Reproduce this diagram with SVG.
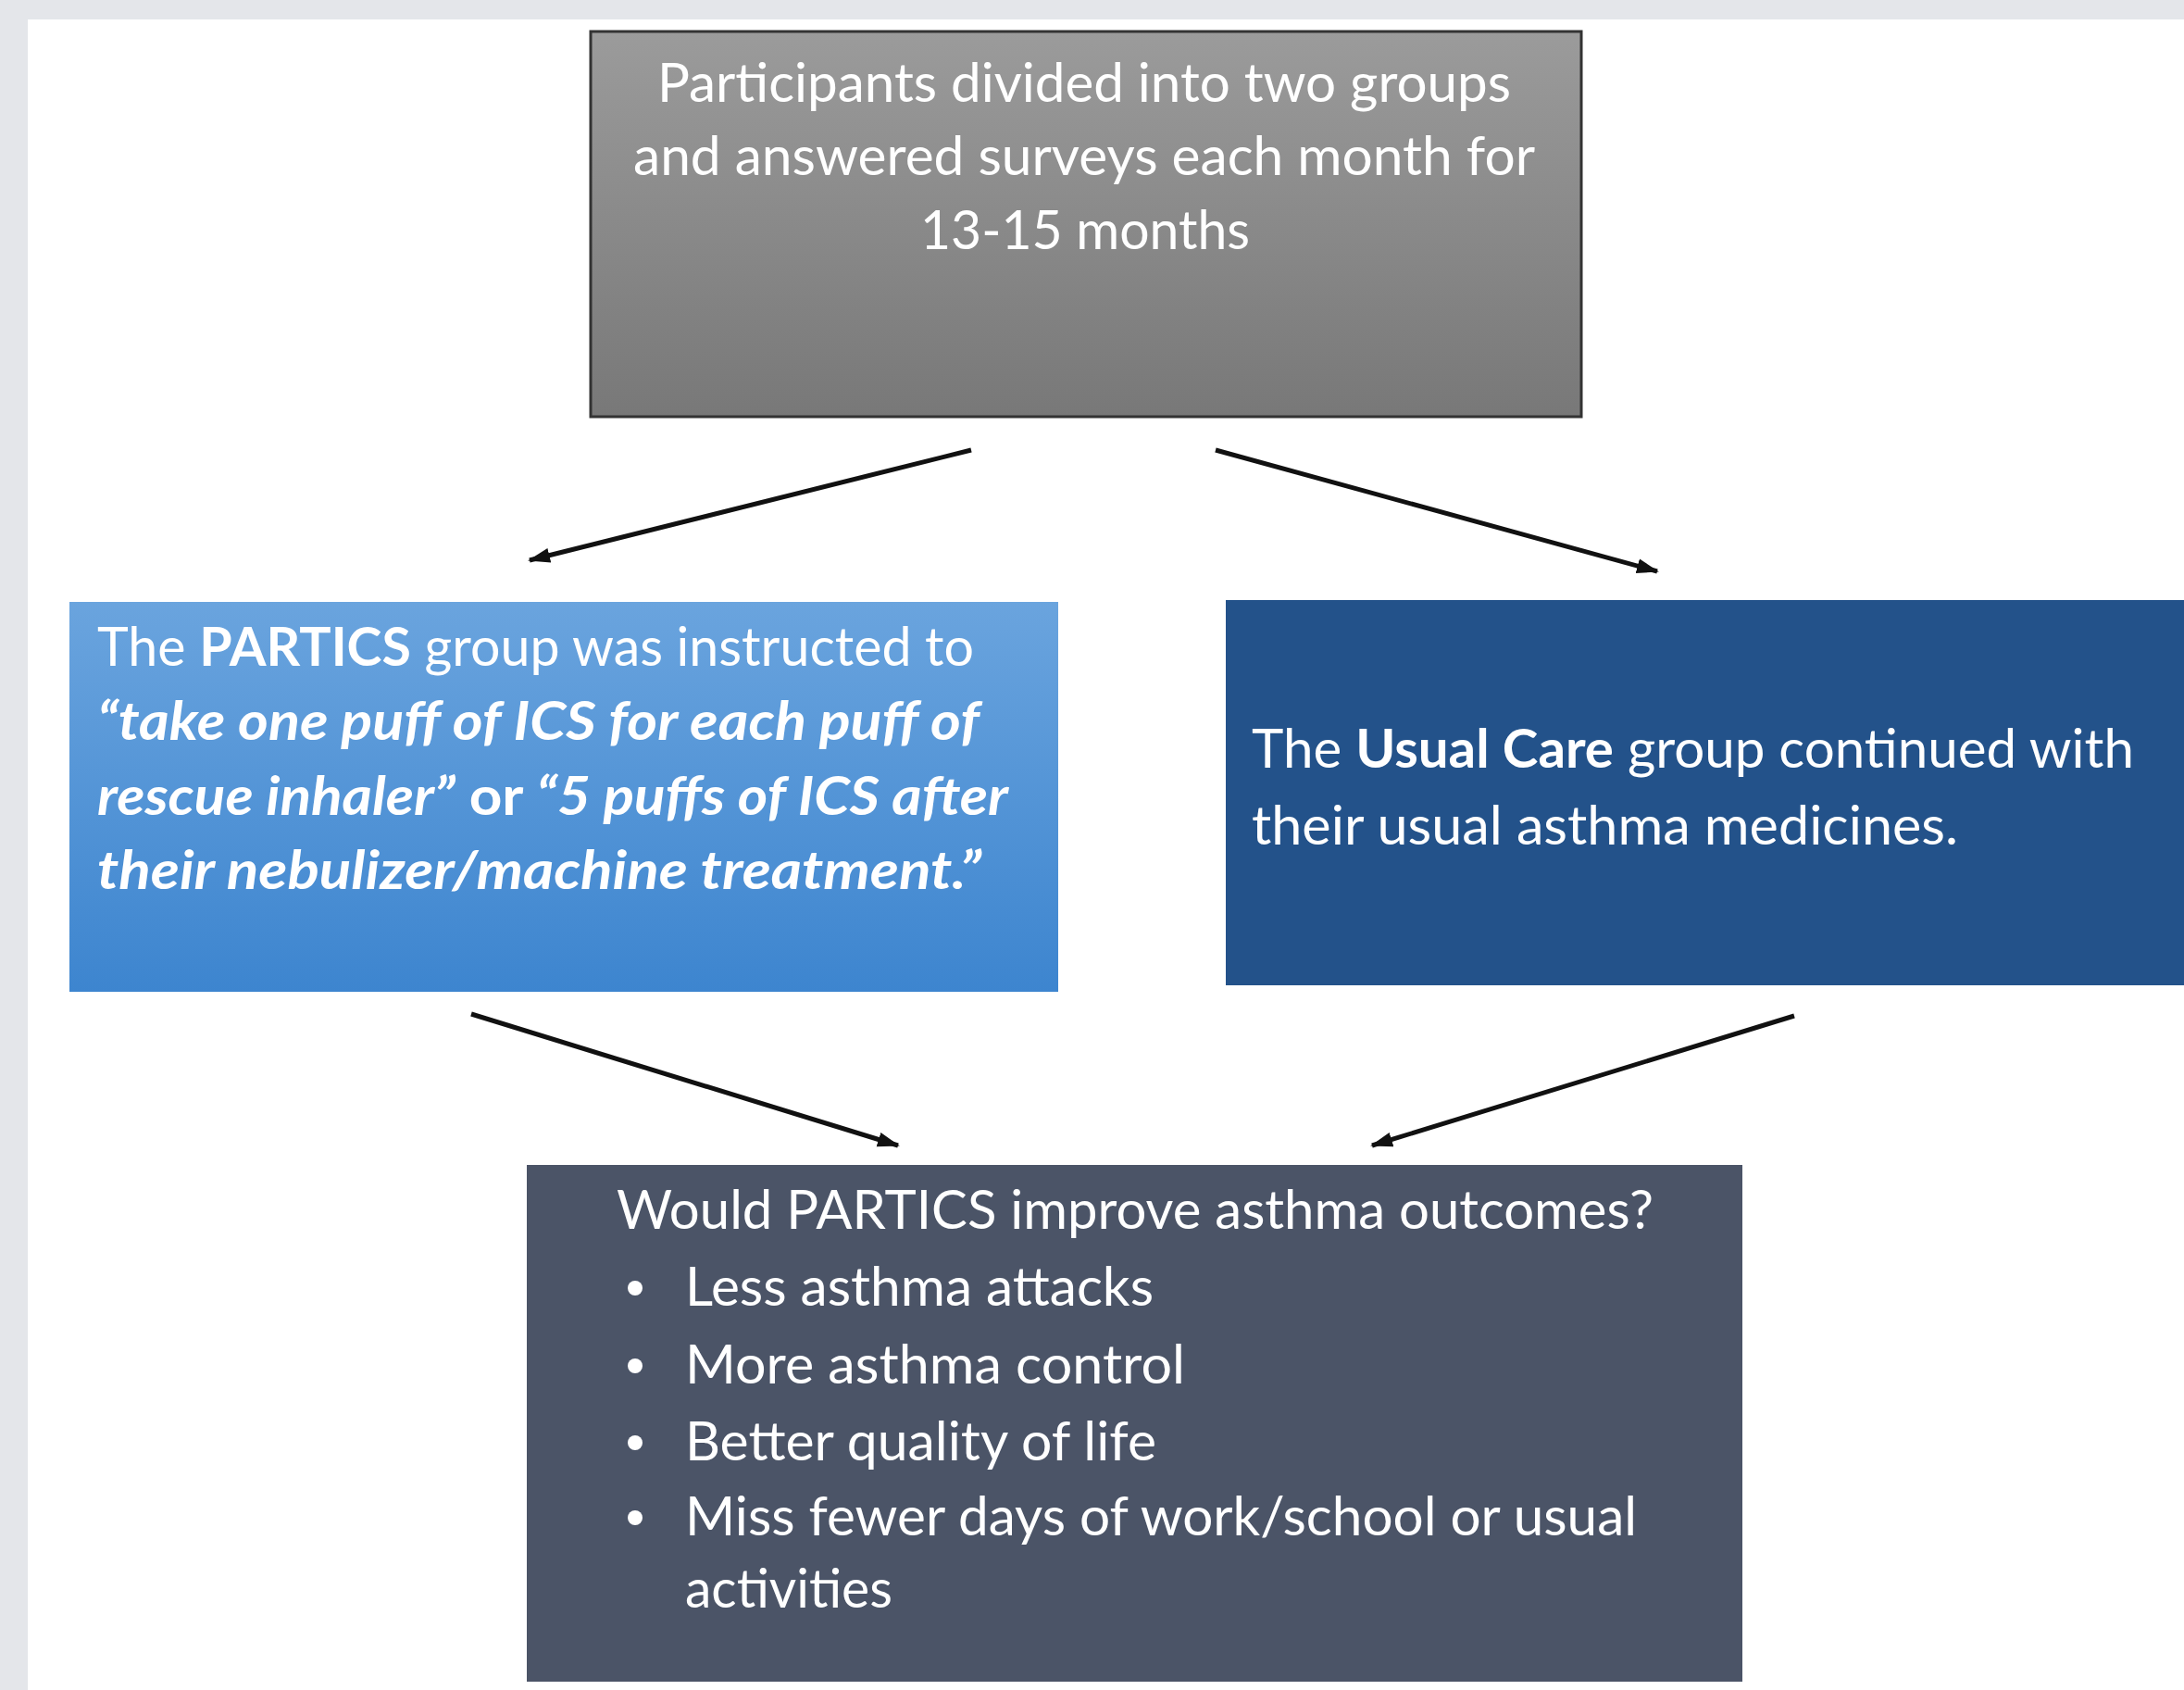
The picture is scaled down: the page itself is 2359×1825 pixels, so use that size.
<svg xmlns="http://www.w3.org/2000/svg" width="2359" height="1825" viewBox="0 0 2359 1825">
<style>
.t{font-family:Lato,"Open Sans","Liberation Sans",sans-serif;font-size:58px;fill:#ffffff;}
.b{font-weight:bold;}
.bi{font-weight:bold;font-style:italic;}
.conn{stroke:#111111;stroke-width:5;fill:none;marker-end:url(#ah);}
</style>
<defs>
<linearGradient id="gTop" x1="0" y1="0" x2="0" y2="1">
<stop offset="0" stop-color="#9b9b9b"/>
<stop offset="1" stop-color="#787878"/>
</linearGradient>
<linearGradient id="gLeft" x1="0" y1="0" x2="0" y2="1">
<stop offset="0" stop-color="#6aa4de"/>
<stop offset="1" stop-color="#3d85cf"/>
</linearGradient>
<marker id="ah" markerUnits="userSpaceOnUse" markerWidth="26" markerHeight="20" refX="22" refY="10" orient="auto">
<path d="M0,2 L24,10 L0,18 z" fill="#111111"/>
</marker>
</defs>
<rect x="0" y="0" width="2359" height="1825" fill="#e4e6ea"/>
<rect x="30" y="21" width="2329" height="1804" fill="#ffffff"/>

<g id="node-top">
<rect x="638" y="34" width="1070" height="416" fill="url(#gTop)" stroke="#333333" stroke-width="3"/>
<text class="t" x="1171" y="110" text-anchor="middle" textLength="922" lengthAdjust="spacingAndGlyphs">Participants divided into two groups</text>
<text class="t" x="1171" y="189" text-anchor="middle" textLength="974" lengthAdjust="spacingAndGlyphs">and answered surveys each month for</text>
<text class="t" x="1172" y="269" text-anchor="middle" textLength="356" lengthAdjust="spacingAndGlyphs">13-15 months</text>
</g>

<g id="node-partics">
<rect x="75" y="650" width="1068" height="421" fill="url(#gLeft)"/>
<text class="t" x="105" y="719" textLength="947" lengthAdjust="spacingAndGlyphs">The <tspan class="b">PARTICS</tspan> group was instructed to</text>
<text class="t bi" x="105" y="799" textLength="953" lengthAdjust="spacingAndGlyphs">“take one puff of ICS for each puff of</text>
<text class="t" x="105" y="880" textLength="984" lengthAdjust="spacingAndGlyphs"><tspan class="bi">rescue inhaler”</tspan><tspan class="b"> or </tspan><tspan class="bi">“5 puffs of ICS after</tspan></text>
<text class="t bi" x="105" y="960" textLength="955" lengthAdjust="spacingAndGlyphs">their nebulizer/machine treatment.”</text>
</g>

<g id="node-usual">
<rect x="1324" y="648" width="1035" height="416" fill="#23528a"/>
<text class="t" x="1352" y="829" textLength="953" lengthAdjust="spacingAndGlyphs">The <tspan class="b">Usual Care</tspan> group continued with</text>
<text class="t" x="1352" y="912" textLength="763" lengthAdjust="spacingAndGlyphs">their usual asthma medicines.</text>
</g>

<g id="node-outcomes">
<rect x="569" y="1258" width="1313" height="558" fill="#4b5467"/>
<text class="t" x="666" y="1327" textLength="1120" lengthAdjust="spacingAndGlyphs">Would PARTICS improve asthma outcomes?</text>
<circle cx="686" cy="1391" r="8" fill="#ffffff"/>
<text class="t" x="740" y="1410" textLength="506" lengthAdjust="spacingAndGlyphs">Less asthma attacks</text>
<circle cx="686" cy="1475" r="8" fill="#ffffff"/>
<text class="t" x="740" y="1494" textLength="540" lengthAdjust="spacingAndGlyphs">More asthma control</text>
<circle cx="686" cy="1558" r="8" fill="#ffffff"/>
<text class="t" x="740" y="1577" textLength="509" lengthAdjust="spacingAndGlyphs">Better quality of life</text>
<circle cx="686" cy="1639" r="8" fill="#ffffff"/>
<text class="t" x="740" y="1658" textLength="1028" lengthAdjust="spacingAndGlyphs">Miss fewer days of work/school or usual</text>
<text class="t" x="740" y="1736" textLength="224" lengthAdjust="spacingAndGlyphs">activities</text>
</g>

<g id="connectors">
<line class="conn" x1="1049" y1="486" x2="572" y2="605"/>
<line class="conn" x1="1313" y1="486" x2="1790" y2="617"/>
<line class="conn" x1="509" y1="1095" x2="970" y2="1237"/>
<line class="conn" x1="1938" y1="1097" x2="1482" y2="1237"/>
</g>
</svg>
